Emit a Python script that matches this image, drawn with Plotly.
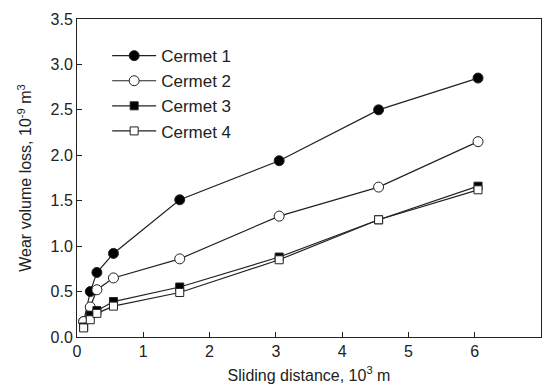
import plotly.graph_objects as go

distance = [0.1, 0.2, 0.3, 0.55, 1.55, 3.05, 4.55, 6.05]
cermet1 = [0.17, 0.50, 0.71, 0.92, 1.51, 1.94, 2.50, 2.85]
cermet2 = [0.17, 0.33, 0.52, 0.65, 0.86, 1.33, 1.65, 2.15]
cermet3 = [0.11, 0.24, 0.29, 0.39, 0.55, 0.88, 1.29, 1.66]
cermet4 = [0.10, 0.19, 0.26, 0.34, 0.49, 0.85, 1.29, 1.62]

x_ticks = [0, 1, 2, 3, 4, 5, 6, 7]
y_ticks = [0.0, 0.5, 1.0, 1.5, 2.0, 2.5, 3.0, 3.5]
y_tick_labels = ["0.0", "0.5", "1.0", "1.5", "2.0", "2.5", "3.0", "3.5"]

series = [
    ("Cermet 1", cermet1, "circle", "black"),
    ("Cermet 2", cermet2, "circle", "white"),
    ("Cermet 3", cermet3, "square", "black"),
    ("Cermet 4", cermet4, "square", "white"),
]

fig = go.Figure()
for name, vals, sym, fill in series:
    fig.add_trace(go.Scatter(
        x=distance, y=vals, name=name, mode="lines+markers",
        line=dict(color="#222222", width=1.2),
        marker=dict(symbol=sym, size=10 if sym == "circle" else 8, color=fill,
                    line=dict(color="#222222", width=1)),
    ))

axis_common = dict(
    showline=True, linecolor="#222222", linewidth=1, mirror=True,
    ticks="inside", ticklen=5, tickcolor="#222222", showgrid=False, zeroline=False,
    automargin=False,
    tickfont=dict(family="Liberation Sans, Arial", size=16, color="#222222"),
)

fig.update_layout(
    width=545, height=391,
    margin=dict(l=77, r=4, t=19, b=54),
    paper_bgcolor="white", plot_bgcolor="white",
    font=dict(family="Liberation Sans, Arial", color="#222222"),
    xaxis=dict(range=[0, 7], tickvals=x_ticks,
               title=dict(text="Sliding distance, 10<sup>3</sup> m", font=dict(size=16), standoff=10),
               **axis_common),
    yaxis=dict(range=[0, 3.5], tickvals=y_ticks, ticktext=y_tick_labels,
               title=dict(text="Wear volume loss, 10<sup>-9</sup> m<sup>3</sup>", font=dict(size=16), standoff=14),
               **axis_common),
    legend=dict(x=0.065, y=0.94, xanchor="left", yanchor="top",
                font=dict(size=17, color="#222222"), bgcolor="rgba(0,0,0,0)",
                tracegroupgap=0, itemwidth=44),
    showlegend=True,
)

fig.write_html("out.html", config={"displayModeBar": False},
               post_script="document.body.style.margin='0';document.body.style.overflow='hidden';")
